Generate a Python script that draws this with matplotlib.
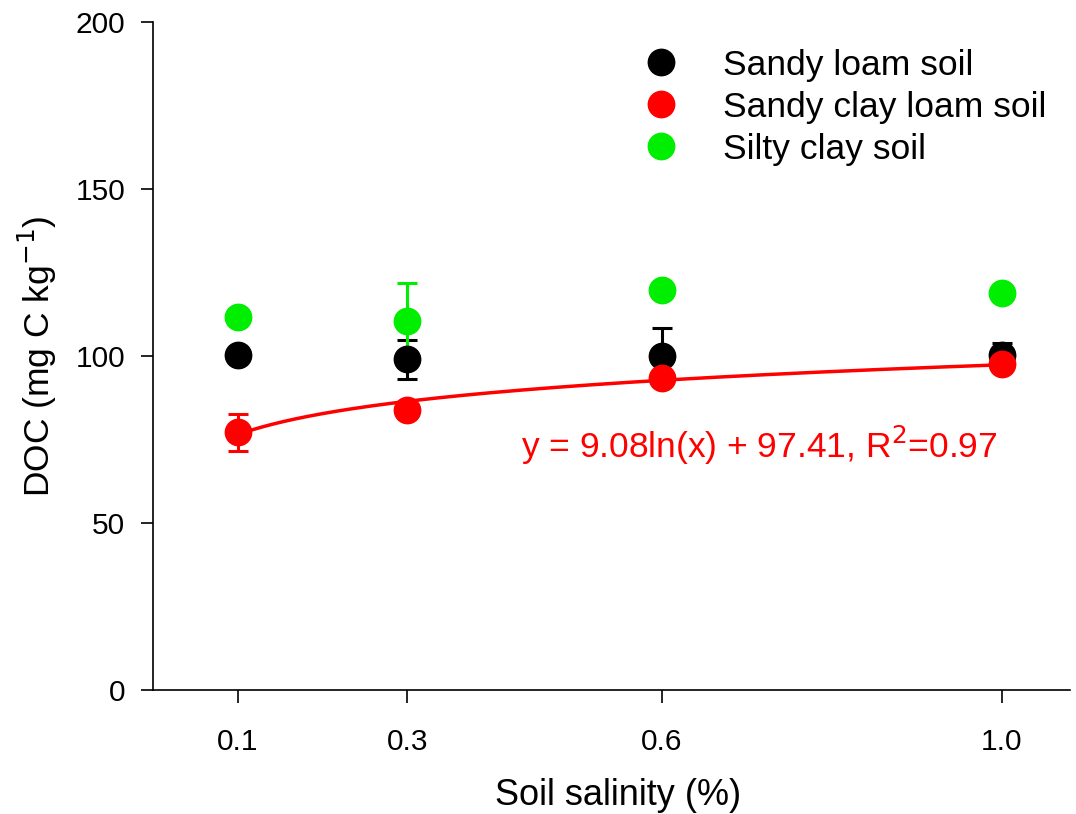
import numpy as np
import matplotlib
matplotlib.use("Agg")
import matplotlib.pyplot as plt
from matplotlib.lines import Line2D

plt.rcParams["font.family"] = ["Liberation Sans", "DejaVu Sans"]

# data
salinity = [0.1, 0.3, 0.6, 1.0]
sandy_loam = [100.2, 99.1, 100.1, 100.3]
sandy_loam_err = [0.0, 5.8, 8.3, 3.6]
sandy_clay_loam = [77.2, 83.8, 93.4, 97.6]
sandy_clay_loam_err = [5.5, 0.0, 0.0, 0.0]
silty_clay = [111.6, 110.6, 119.9, 118.9]
silty_clay_err = [0.0, 11.4, 0.0, 0.0]

# fitted curve y = a ln(x) + b
fit_a = 9.08
fit_b = 97.41

fig = plt.figure(figsize=(10.76, 8.14), dpi=100)
ax = fig.add_axes([0.142, 0.152, 0.852, 0.821])

series = [
    (sandy_loam, sandy_loam_err, "black", "Sandy loam soil"),
    (sandy_clay_loam, sandy_clay_loam_err, "#ff0000", "Sandy clay loam soil"),
    (silty_clay, silty_clay_err, "#00ee00", "Silty clay soil"),
]
handles = []
for vals, err, col, lab in series:
    ax.errorbar(salinity, vals, yerr=err, fmt="o", color=col, ms=19,
                elinewidth=2.2, capsize=7.5, capthick=2.2)
    handles.append(Line2D([], [], ls="none", marker="o", color=col, ms=19, label=lab))

xf = np.linspace(0.1, 1.0, 200)
ax.plot(xf, fit_a * np.log(xf) + fit_b, color="#ff0000", lw=2.5, zorder=1)

ax.text(0.714, 73.4, "y = 9.08ln(x) + 97.41, R$^2$=0.97", color="#ff0000",
        fontsize=25.5, ha="center", va="center")

ax.set_xlim(0, 1.08)
ax.set_ylim(0, 200)
ax.set_xticks(salinity)
ax.set_xticklabels(["0.1", "0.3", "0.6", "1.0"])
ax.set_yticks([0, 50, 100, 150, 200])
ax.tick_params(axis="x", direction="out", length=9, width=1.2, labelsize=21.5, pad=18)
ax.tick_params(axis="y", direction="out", length=9, width=1.2, labelsize=21.5, pad=11)
ax.spines["top"].set_visible(False)
ax.spines["right"].set_visible(False)
for s in ["left", "bottom"]:
    ax.spines[s].set_linewidth(1.2)

ax.set_xlabel("Soil salinity (%)", fontsize=26, labelpad=16)
ax.xaxis.label.set_x(0.507)
ax.set_ylabel("DOC (mg C kg$^{-1}$)", fontsize=25.5, labelpad=12)

ax.legend(handles=handles, loc="upper left", bbox_to_anchor=(0.51, 0.981),
          frameon=False, fontsize=25.5, handletextpad=1.0, labelspacing=0.25,
          handlelength=1.5, borderaxespad=0.0)

fig.savefig("out.png", dpi=100)
